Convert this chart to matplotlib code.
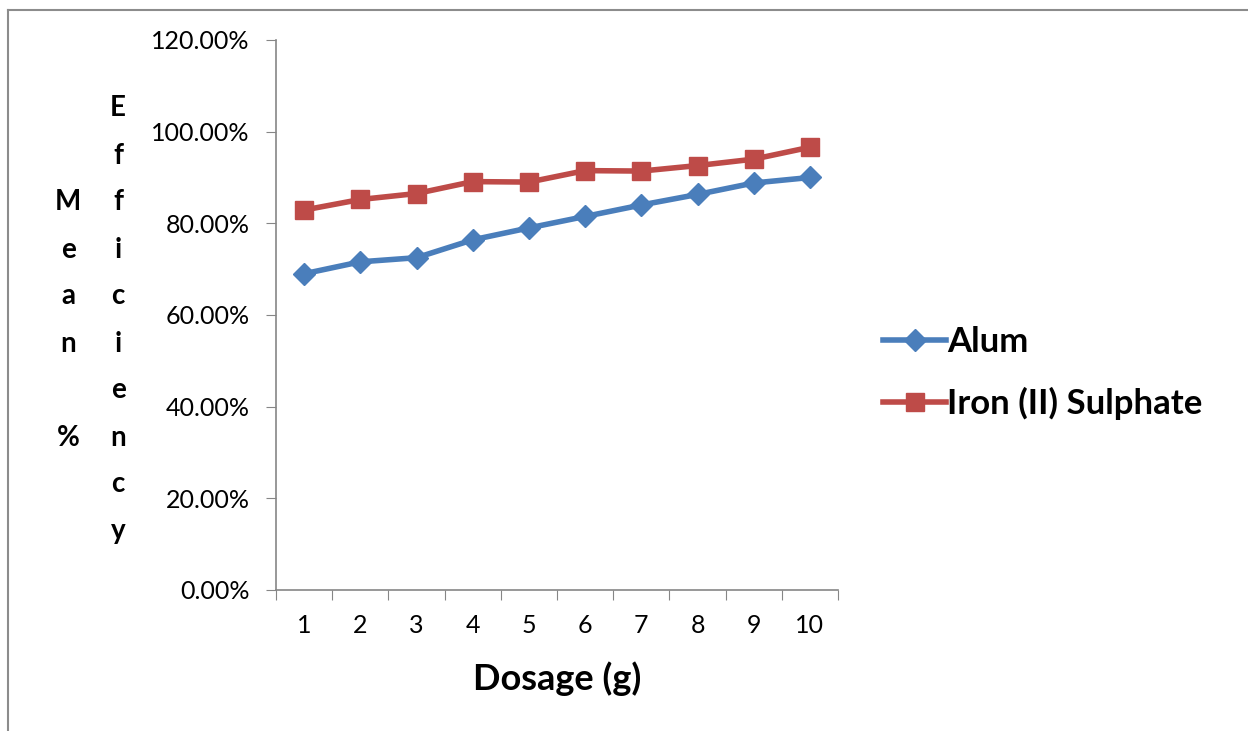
import numpy as np
import matplotlib.pyplot as plt
from matplotlib.lines import Line2D
from matplotlib.ticker import FuncFormatter

plt.rcParams['font.family'] = ['Lato', 'DejaVu Sans']

dosage = [1, 2, 3, 4, 5, 6, 7, 8, 9, 10]
alum = [69.0, 71.6, 72.5, 76.4, 79.0, 81.5, 84.0, 86.3, 88.8, 90.0]
iron = [82.9, 85.2, 86.5, 89.1, 89.0, 91.5, 91.4, 92.6, 94.0, 96.6]

blue = '#4a7ebb'
red = '#be4b48'

fig = plt.figure(figsize=(12.48, 7.31), dpi=100)
ax = fig.add_axes([0.2212, 0.1929, 0.4503, 0.7524])

ax.plot(dosage, alum, color=blue, lw=4, marker='D', ms=11, label='Alum')
ax.plot(dosage, iron, color=red, lw=4, marker='s', ms=13, label='Iron (II) Sulphate')

ax.set_xlim(0.5, 10.5)
ax.set_ylim(0, 120)
ax.set_yticks(np.arange(0, 121, 20))
ax.yaxis.set_major_formatter(FuncFormatter(lambda v, p: f'{v:.2f}%'))
ax.set_xticks(np.arange(0.5, 10.6, 1))
ax.set_xticklabels([])
ax.set_xticks(dosage, minor=True)
ax.set_xticklabels([str(d) for d in dosage], minor=True)
ax.tick_params(axis='x', which='major', length=7, color='#868686', direction='out')
ax.tick_params(axis='x', which='minor', length=0, pad=17, labelsize=18)
ax.tick_params(axis='y', length=7, color='#868686', labelsize=18, pad=12)

for s in ['top', 'right']:
    ax.spines[s].set_visible(False)
for s in ['left', 'bottom']:
    ax.spines[s].set_color('#868686')
    ax.spines[s].set_linewidth(1.2)

ax.set_xlabel('Dosage (g)', fontsize=26, fontweight='bold', labelpad=18)

# stacked y label columns
fig.text(68 / 1248, 1 - 320 / 731, '\n'.join('Mean %'),
         ha='center', va='center', fontsize=20, fontweight='bold', linespacing=2.0)
fig.text(118 / 1248, 1 - 320 / 731, '\n'.join('Efficiency'),
         ha='center', va='center', fontsize=20, fontweight='bold', linespacing=2.0)

ax.legend(loc='center left', bbox_to_anchor=(852 / 1248, 1 - 373 / 731),
          bbox_transform=fig.transFigure, frameon=False, handlelength=1.8,
          handletextpad=0.05, labelspacing=0.85,
          prop={'size': 25, 'weight': 'bold'})

# outer chart border
fig.add_artist(Line2D([8 / 1248, 8 / 1248], [0, 1 - 10 / 731], transform=fig.transFigure,
                      color='#8c8c8c', lw=1.5))
fig.add_artist(Line2D([8 / 1248, 1], [1 - 10 / 731, 1 - 10 / 731], transform=fig.transFigure,
                      color='#8c8c8c', lw=1.5))

fig.savefig('out.png', dpi=100)
